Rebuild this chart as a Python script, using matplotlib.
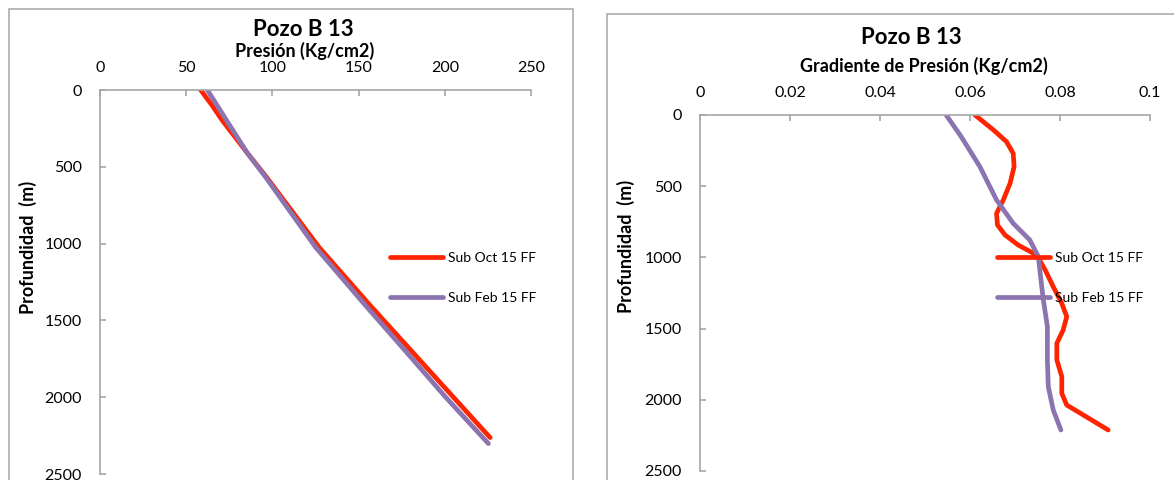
import numpy as np
import matplotlib.pyplot as plt
from matplotlib.patches import Rectangle
from matplotlib.ticker import FuncFormatter

plt.rcParams['font.family'] = ['Lato', 'DejaVu Sans']

# left panel: presion vs profundidad
pres_oct = [58.4, 65.0, 70.8, 85.5, 96.5, 127.0, 156.5, 180.5, 205.0, 226.3]
prof_pres_oct = [0, 100, 196, 411, 566, 1023, 1400, 1697, 2000, 2263]
pres_feb = [62.3, 73.3, 85.5, 96.0, 125.0, 153.8, 177.0, 200.5, 225.3]
prof_pres_feb = [0, 196, 411, 566, 1023, 1400, 1697, 2000, 2302]

# right panel: gradiente vs profundidad
grad_oct = [0.0611, 0.0652, 0.0681, 0.0696, 0.0698, 0.0689, 0.0674, 0.0659, 0.0661,
            0.0678, 0.0707, 0.0748, 0.0767, 0.0785, 0.0804, 0.0815, 0.0807, 0.0793,
            0.0793, 0.0804, 0.0804, 0.0815, 0.0852, 0.0907]
prof_grad_oct = [0, 105, 187, 269, 363, 480, 597, 691, 772, 843, 913, 983, 1088, 1206,
                 1323, 1416, 1510, 1603, 1720, 1838, 1955, 2037, 2107, 2212]
grad_feb = [0.0547, 0.0580, 0.0622, 0.0659, 0.0696, 0.0733, 0.0752, 0.0756, 0.0763,
            0.0772, 0.0772, 0.0774, 0.0785, 0.0802]
prof_grad_feb = [0, 150, 363, 597, 761, 878, 995, 1112, 1299, 1486, 1720, 1908, 2072, 2212]

series_names = ['Sub Oct 15 FF', 'Sub Feb 15 FF']
c_oct = '#ff2400'
c_feb = '#8c74b0'
gray = '#a6a6a6'

W, H = 1174, 480
fig = plt.figure(figsize=(W / 100, H / 100), dpi=100)

# chart area frames
fig.patches.append(Rectangle((9 / W, -0.1), (573 - 9) / W, 1.1 - 9 / H,
                             transform=fig.transFigure, fill=False, ec=gray, lw=1.1))
fig.patches.append(Rectangle((607 / W, -0.1), 0.5, 1.1 - 14 / H,
                             transform=fig.transFigure, fill=False, ec=gray, lw=1.1))

ax1 = fig.add_axes([100 / W, 1 - 474 / H, (531 - 100) / W, (474 - 90) / H])
ax2 = fig.add_axes([700 / W, 1 - 471 / H, (1150 - 700) / W, (471 - 115) / H])


def style(ax, xmax, xstep):
    ax.set_xlim(0, xmax)
    ax.set_ylim(2500, 0)
    ax.set_xticks(np.arange(0, xmax + xstep / 2, xstep))
    ax.set_yticks(np.arange(0, 2501, 500))
    ax.xaxis.set_major_formatter(FuncFormatter(lambda v, p: '{:g}'.format(round(v, 4))))
    ax.xaxis.tick_top()
    for s in ['right', 'bottom']:
        ax.spines[s].set_visible(False)
    for s in ['top', 'left']:
        ax.spines[s].set_color(gray)
        ax.spines[s].set_linewidth(1.2)
    ax.tick_params(axis='x', direction='in', length=4, width=1.2, color=gray,
                   labelsize=11.5, pad=11)
    ax.tick_params(axis='y', direction='in', length=4, width=1.2, color=gray,
                   labelsize=11.5, pad=13)
    ax.set_ylabel('Profundidad  (m)', fontsize=13, fontweight='bold')
    ax.patch.set_alpha(0)


style(ax1, 250, 50)
style(ax2, 0.1, 0.02)
ax1.yaxis.set_label_coords(-0.146, 0.59)
ax2.yaxis.set_label_coords(-0.144, 0.63)

lw = 3.4
ax1.plot(pres_oct, prof_pres_oct, color=c_oct, lw=lw, solid_capstyle='round',
         solid_joinstyle='round', label=series_names[0])
ax1.plot(pres_feb, prof_pres_feb, color=c_feb, lw=lw, solid_capstyle='round',
         solid_joinstyle='round', label=series_names[1])
ax2.plot(grad_oct, prof_grad_oct, color=c_oct, lw=lw, solid_capstyle='round',
         solid_joinstyle='round', label=series_names[0])
ax2.plot(grad_feb, prof_grad_feb, color=c_feb, lw=lw, solid_capstyle='round',
         solid_joinstyle='round', label=series_names[1])

for ax, x0, y0 in [(ax1, 390, 252), (ax2, 997, 252)]:
    leg = ax.legend(loc='upper left', bbox_to_anchor=(x0 / W, 1 - y0 / H),
                    bbox_transform=fig.transFigure, frameon=False, fontsize=10,
                    handlelength=3.8, handletextpad=0.35, labelspacing=2.0,
                    borderpad=0, borderaxespad=0)
    for h in leg.get_lines():
        h.set_solid_capstyle('round')

# titles
fig.text(303 / W, 1 - 30 / H, 'Pozo B 13', ha='center', va='center',
         fontsize=16, fontweight='bold')
fig.text(305 / W, 1 - 51 / H, 'Presión (Kg/cm2)', ha='center', va='center',
         fontsize=13, fontweight='bold')
fig.text(911 / W, 1 - 37 / H, 'Pozo B 13', ha='center', va='center',
         fontsize=16, fontweight='bold')
fig.text(924 / W, 1 - 66 / H, 'Gradiente de Presión (Kg/cm2)', ha='center',
         va='center', fontsize=13, fontweight='bold')

fig.savefig('out.png', dpi=100)
